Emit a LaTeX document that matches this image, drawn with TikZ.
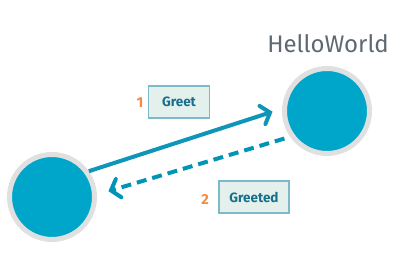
\documentclass[tikz,border=0pt]{standalone}
\usepackage{fontspec}
\setmainfont{Fira Sans}
\usetikzlibrary{arrows.meta}
\definecolor{actorblue}{HTML}{00A6CA}
\definecolor{ringgray}{HTML}{E0E0E0}
\definecolor{msgline}{HTML}{0E95B8}
\definecolor{msgfill}{HTML}{E4F0EC}
\definecolor{msgedge}{HTML}{7DB9C9}
\definecolor{msgtext}{HTML}{16708C}
\definecolor{steporange}{HTML}{F58A3C}
\definecolor{titlegray}{HTML}{5E6872}

\begin{document}
\begin{tikzpicture}[x=1pt,y=-1pt,
 actor/.style={circle,fill=actorblue,draw=ringgray,line width=5pt,minimum size=85pt,inner sep=0pt},
 msg/.style={draw=msgedge,fill=msgfill,line width=1.6pt,font=\fontsize{13.5}{15}\selectfont\bfseries,text=msgtext,minimum height=32pt,inner sep=0pt},
 num/.style={font=\fontsize{14.5}{16}\selectfont\bfseries,text=steporange},
 flow/.style={msgline,line width=4pt,-{Straight Barb[length=8pt,width=19pt,line cap=round]}}]
\useasboundingbox (0,0) rectangle (420,256);
% actors
\node[actor] (sender) at (52,197) {};
\node[actor] (hello) at (327,111) {};
\node[font=\fontsize{24}{28}\selectfont,text=titlegray,anchor=base] (title) at (328,53) {HelloWorld};
% messages
\draw[flow,shorten >=10pt] (sender.35) -- (hello.177);
\draw[flow,color=actorblue!90!black,dash pattern=on 10pt off 6pt,shorten <=6pt,shorten >=12pt] (hello.215) -- (sender.3);
% message labels
\node[msg,minimum width=61pt] (greet) at (179,102) {Greet};
\node[num] (n1) at (140,103) {1};
\node[msg,minimum width=70pt] (greeted) at (254,197) {Greeted};
\node[num] (n2) at (205,199) {2};
\end{tikzpicture}
\end{document}
